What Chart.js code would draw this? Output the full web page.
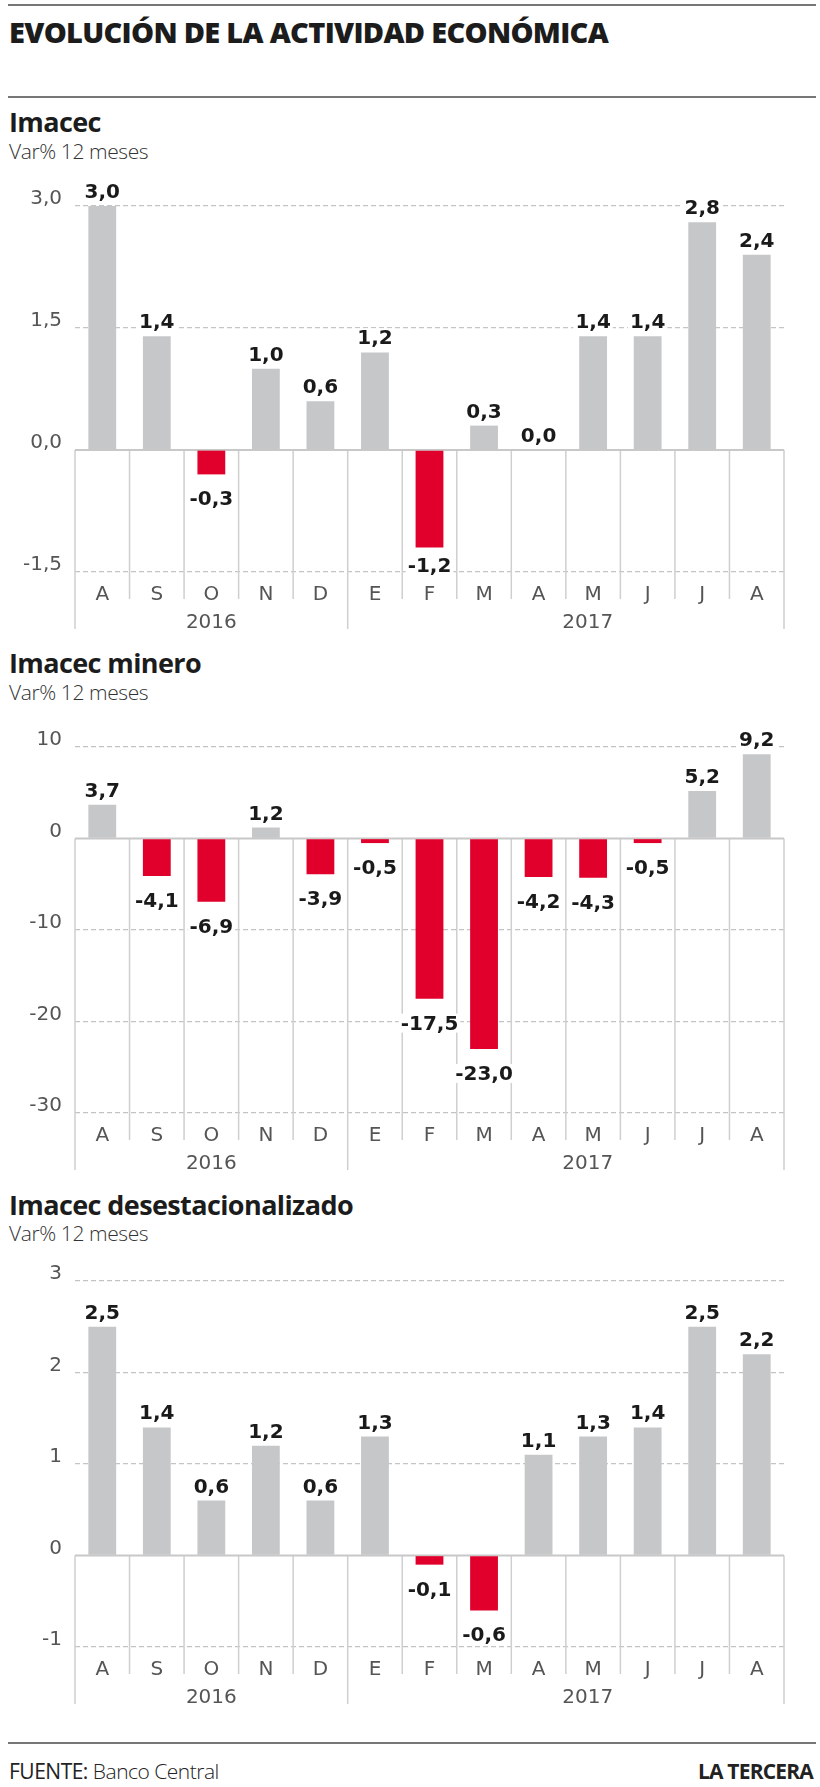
<!DOCTYPE html>
<html>
<head>
<meta charset="utf-8">
<script src="https://cdn.jsdelivr.net/npm/chart.js"></script>
<style>
  html, body { margin: 0; padding: 0; background: #fff; }
  body { width: 820px; height: 1787px; position: relative; overflow: hidden; font-family: "Open Sans", sans-serif; color: #222; }
  .rule { position: absolute; left: 8px; width: 808px; height: 2px; background: #777; }
  .txt { position: absolute; line-height: 1; white-space: nowrap; }
  .title { font-size: 29px; font-weight: 800; letter-spacing: -0.7px; color: #1c1c1c; }
  .head { font-size: 27px; font-weight: 700; letter-spacing: -0.6px; color: #1c1c1c; }
  .sub { font-size: 21px; font-weight: 300; letter-spacing: -0.4px; color: #333; }
  .foot { font-size: 21px; color: #222; letter-spacing: -0.5px; }
  canvas { position: absolute; left: 0; }
</style>
</head>
<body>
<div class="rule" style="top:4px"></div>
<div class="txt title" style="left:9px; top:17px">EVOLUCIÓN DE LA ACTIVIDAD ECONÓMICA</div>
<div class="rule" style="top:96px"></div>

<div class="txt head" style="left:9px; top:108px">Imacec</div>
<div class="txt sub" style="left:9px; top:141px">Var% 12 meses</div>
<canvas id="c1" width="820" height="470" style="top:170px"></canvas>

<div class="txt head" style="left:9px; top:649px">Imacec minero</div>
<div class="txt sub" style="left:9px; top:682px">Var% 12 meses</div>
<canvas id="c2" width="820" height="470" style="top:710px"></canvas>

<div class="txt head" style="left:9px; top:1191px">Imacec desestacionalizado</div>
<div class="txt sub" style="left:9px; top:1223px">Var% 12 meses</div>
<canvas id="c3" width="820" height="470" style="top:1250px"></canvas>

<div class="rule" style="top:1742px"></div>
<div class="txt foot" style="left:9px; top:1761px">FUENTE: <span style="font-weight:300">Banco Central</span></div>
<div class="txt foot" style="right:7px; top:1761px; font-weight:700; letter-spacing:-0.8px">LA TERCERA</div>

<script>
const months = ['A', 'S', 'O', 'N', 'D', 'E', 'F', 'M', 'A', 'M', 'J', 'J', 'A'];
const years = ['2016', '2017'];

const imacec = [3.0, 1.4, -0.3, 1.0, 0.6, 1.2, -1.2, 0.3, 0.0, 1.4, 1.4, 2.8, 2.4];
const imacecMinero = [3.7, -4.1, -6.9, 1.2, -3.9, -0.5, -17.5, -23.0, -4.2, -4.3, -0.5, 5.2, 9.2];
const imacecDesest = [2.5, 1.4, 0.6, 1.2, 0.6, 1.3, -0.1, -0.6, 1.1, 1.3, 1.4, 2.5, 2.2];

const imacecTicks = [3, 1.5, 0, -1.5];
const mineroTicks = [10, 0, -10, -20, -30];
const desestTicks = [3, 2, 1, 0, -1];

const GRAY = '#c6c7c9';
const RED = '#e0002b';
const LINE = '#cfcfcf';
const AXIS_FONT = { family: 'DejaVu Sans', size: 20, weight: 'normal' };

const comma = (v, d) => v.toFixed(d).replace('.', ',');

// separators under the baseline, zero line, year labels and value labels
const panel = {
  id: 'panel',
  beforeDatasetsDraw(chart) {
    const { ctx, chartArea } = chart;
    const x = chart.scales.x, y = chart.scales.y;
    const y0 = y.getPixelForValue(0);
    const n = chart.data.labels.length;
    ctx.save();
    ctx.strokeStyle = LINE;
    ctx.lineWidth = 1.5;
    for (let i = 0; i <= n; i++) {
      let px;
      if (i === 0) px = x.left;
      else if (i === n) px = x.right;
      else px = (x.getPixelForValue(i - 1) + x.getPixelForValue(i)) / 2;
      const long = i === 0 || i === 5 || i === n;
      ctx.beginPath();
      ctx.moveTo(px, y0);
      ctx.lineTo(px, chartArea.bottom + (long ? 57 : 27));
      ctx.stroke();
    }
    ctx.strokeStyle = '#c8c8c8';
    ctx.lineWidth = 2;
    ctx.beginPath();
    ctx.moveTo(chartArea.left, y0);
    ctx.lineTo(chartArea.right, y0);
    ctx.stroke();

    ctx.fillStyle = '#555';
    ctx.font = '20px "DejaVu Sans"';
    ctx.textAlign = 'center';
    ctx.textBaseline = 'alphabetic';
    [2, 8.9].forEach((c, k) => {
      ctx.fillText(years[k], x.getPixelForValue(c), chartArea.bottom + 56);
    });
    ctx.restore();
  },
  afterDatasetsDraw(chart) {
    const { ctx, chartArea } = chart;
    const meta = chart.getDatasetMeta(0);
    const vals = chart.data.datasets[0].data;
    ctx.save();
    ctx.font = 'bold 20px "DejaVu Sans"';
    ctx.textAlign = 'center';
    ctx.textBaseline = 'alphabetic';
    meta.data.forEach((bar, i) => {
      const v = vals[i];
      const txt = comma(v, 1);
      let base;
      if (v >= 0) base = bar.y - 8;
      else base = Math.min(bar.y + 31, chartArea.bottom);
      const w = ctx.measureText(txt).width;
      ctx.fillStyle = '#fff';
      ctx.fillRect(bar.x - w / 2 - 2, base - 16, w + 4, 19);
      ctx.fillStyle = '#1a1a1a';
      ctx.fillText(txt, bar.x, base);
    });
    ctx.restore();
  }
};

function makeChart(id, values, ticks, decimals, padTop, axisH) {
  new Chart(document.getElementById(id), {
    type: 'bar',
    data: {
      labels: months,
      datasets: [{
        data: values,
        backgroundColor: values.map(v => v < 0 ? RED : GRAY),
        borderWidth: 0,
        barPercentage: 0.51,
        categoryPercentage: 1
      }]
    },
    options: {
      responsive: false,
      animation: false,
      events: [],
      layout: { padding: { top: padTop, right: 36, bottom: 0, left: 0 } },
      plugins: { legend: { display: false }, tooltip: { enabled: false } },
      scales: {
        x: {
          grid: { display: false, drawTicks: false },
          border: { display: false },
          ticks: {
            padding: 11,
            autoSkip: false,
            maxRotation: 0,
            color: '#555',
            font: AXIS_FONT
          },
          afterFit: s => { s.height = axisH; }
        },
        y: {
          min: ticks[ticks.length - 1],
          max: ticks[0],
          afterBuildTicks: s => { s.ticks = ticks.map(v => ({ value: v })); },
          grid: {
            drawTicks: false,
            lineWidth: 1.3,
            color: c => c.tick && c.tick.value === 0 ? 'rgba(0,0,0,0)' : '#c4c4c4'
          },
          border: { display: false, dash: [5, 3] },
          ticks: {
            padding: 13,
            labelOffset: -7,
            autoSkip: false,
            color: '#555',
            font: AXIS_FONT,
            callback: v => comma(v, decimals)
          },
          afterFit: s => { s.width = 75; }
        }
      }
    },
    plugins: [panel]
  });
}

makeChart('c1', imacec, imacecTicks, 1, 36, 68);
makeChart('c2', imacecMinero, mineroTicks, 0, 37, 67);
makeChart('c3', imacecDesest, desestTicks, 0, 31, 73);
</script>
</body>
</html>
